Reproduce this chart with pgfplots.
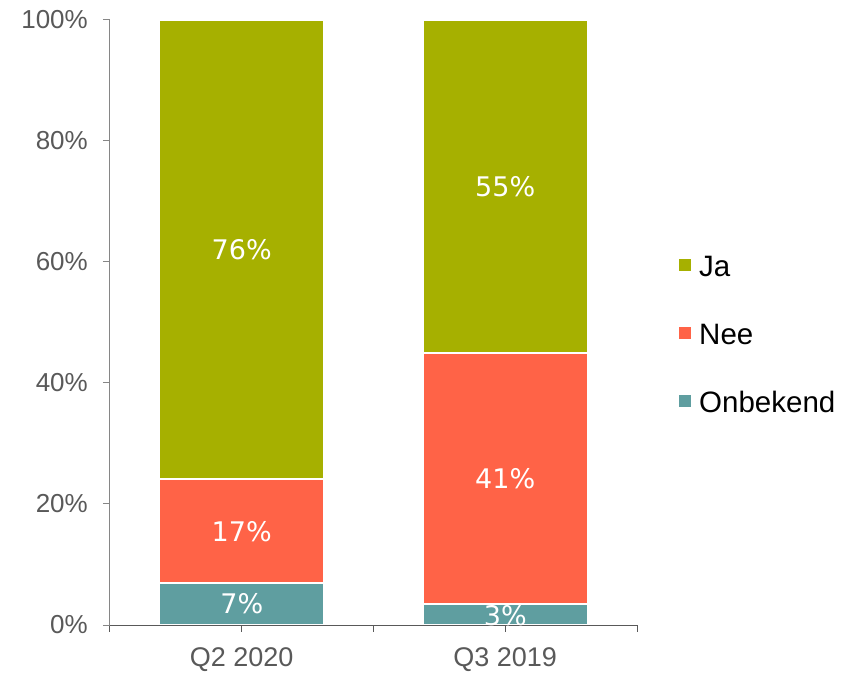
\documentclass[border=0pt]{standalone}
\usepackage{pgfplots}
\pgfplotsset{compat=1.18}
\usepackage{fontspec}
\setmainfont{Liberation Sans}
\newfontfamily\dejavu{DejaVu Sans}
\definecolor{ja}{RGB}{166,176,0}
\definecolor{nee}{RGB}{255,99,71}
\definecolor{onb}{RGB}{95,158,160}
\definecolor{tickgray}{RGB}{89,89,89}
\definecolor{yaxcol}{RGB}{134,134,134}
\definecolor{xaxcol}{RGB}{89,89,89}
\begin{document}
\begin{tikzpicture}
\useasboundingbox (0,0) rectangle (841pt,675pt);
\begin{axis}[
  at={(110pt,50pt)}, anchor=south west,
  scale only axis, width=527pt, height=605pt,
  ybar stacked, bar width=165pt,
  xmin=-0.5, xmax=1.5, ymin=0, ymax=100,
  axis x line*=bottom, axis y line*=left,
  x axis line style={draw=xaxcol, line width=1pt, -},
  y axis line style={draw=yaxcol, line width=1pt, -},
  axis on top,
  tick align=outside,
  major tick length=7pt,
  ytick={0,20,40,60,80,100},
  yticklabels={0\%,20\%,40\%,60\%,80\%,100\%},
  ytick style={draw=yaxcol, line width=1pt},
  yticklabel style={font=\fontsize{26}{30}\selectfont, text=tickgray, inner sep=0pt, anchor=east, xshift=-15pt},
  xtick={-0.5,0.5,1.5},
  xticklabels={},
  xtick style={draw=xaxcol, line width=1pt},
  extra x ticks={0,1},
  extra x tick labels={Q2 2020,Q3 2019},
  extra x tick style={tick style={draw=none}, xticklabel style={font=\fontsize{27}{30}\selectfont, text=tickgray, inner sep=0pt, anchor=north, yshift=-15pt}},
  reverse legend,
  legend cell align=left,
  legend image code/.code={\fill[#1, draw=none] (0pt,-6pt) rectangle (12pt,6pt);},
  legend style={at={(1.0797,0.4826)}, anchor=west, draw=none, fill=none, inner sep=0pt,
    font=\fontsize{29.5}{32}\selectfont, row sep=46pt, column sep=8pt,
    nodes={inner sep=0pt, text height=22pt, text depth=0pt}},
]
\addplot[fill=onb, draw=white, line width=2pt] coordinates {(0,6.9) (1,3.5)};
\addplot[fill=nee, draw=white, line width=2pt] coordinates {(0,17.2) (1,41.5)};
\addplot[fill=ja, draw=white, line width=2pt] coordinates {(0,75.9) (1,55.0)};
\legend{Onbekend,Nee,Ja}
\end{axis}
\begin{axis}[
  at={(110pt,50pt)}, anchor=south west,
  scale only axis, width=527pt, height=605pt,
  xmin=-0.5, xmax=1.5, ymin=0, ymax=100,
  hide axis, clip=false,
]
\addplot[draw=none, mark=none, nodes near coords, point meta=explicit symbolic,
  nodes near coords align=center,
  every node near coord/.append style={font=\dejavu\fontsize{27}{30}\selectfont, text=white, inner sep=0pt}]
  table[meta=lab] {
x y lab
0 3.45 7\%
0 15.5 17\%
0 62.05 76\%
1 1.6 3\%
1 24.25 41\%
1 72.5 55\%
};
\end{axis}
\end{tikzpicture}
\end{document}
